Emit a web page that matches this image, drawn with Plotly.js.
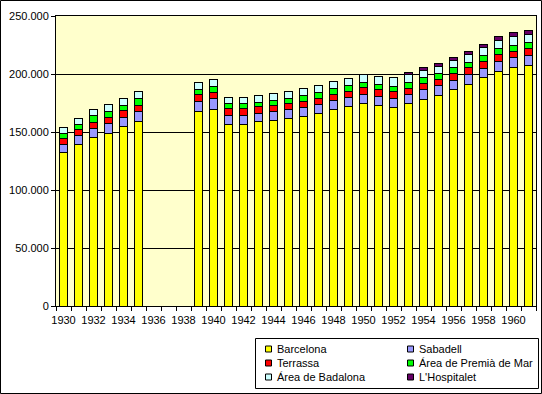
<!DOCTYPE html>
<html>
<head>
<meta charset="utf-8">
<script src="https://cdn.plot.ly/plotly-3.0.1.min.js"></script>
<style>html,body{margin:0;padding:0;background:#fff;}#chart{width:542px;height:394px;}</style>
</head>
<body>
<div id="chart"></div>
<script>
const years = [1930,1931,1932,1933,1934,1935,1936,1937,1938,1939,1940,1941,1942,1943,1944,1945,1946,1947,1948,1949,1950,1951,1952,1953,1954,1955,1956,1957,1958,1959,1960,1961];
const barcelona = [132500,139400,145400,148900,154900,159200,null,null,null,167800,169600,156600,156800,159200,160100,161800,163500,166100,169600,172200,174700,173000,171300,174700,178200,181600,186800,191100,197200,202300,205800,207500];
const sabadell = [6900,7800,7800,8600,7800,8300,null,null,null,8600,9500,7800,7600,6900,7800,7800,7800,7800,7800,7800,7800,7800,7800,7800,8600,8600,7800,8600,7800,8600,8600,8600];
const terrassa = [5200,5200,5200,5200,5500,5500,null,null,null,6000,5200,6000,6000,6000,5200,5200,5200,5200,5200,5200,6000,6000,6000,5200,5200,5200,6000,6000,6000,6000,5200,6000];
const premia = [4300,4300,5400,5400,5000,5500,null,null,null,4300,5200,4300,4300,3400,4300,4300,5200,5200,5200,5200,4300,4300,4300,5200,5200,5200,5200,4300,5200,5200,5200,5200];
const badalona = [5200,5200,5200,6000,6000,6500,null,null,null,6000,6000,5200,5200,6000,6000,6000,6000,6000,6000,6000,6900,6900,7200,6900,6000,6000,6000,6900,6900,6900,7800,6900];
const hospitalet = [null,null,null,null,null,null,null,null,null,null,null,null,null,null,null,null,null,null,null,null,null,null,800,1700,2600,2600,2600,2600,2600,3400,3400,3400];
const tickYears = [1930,1932,1934,1936,1938,1940,1942,1944,1946,1948,1950,1952,1954,1956,1958,1960];
const seriesNames = ["Barcelona","Sabadell","Terrassa","Área de Premià de Mar","Área de Badalona","L'Hospitalet"];
const seriesColors = ["#FFFF00","#9999FF","#FF0000","#00FF00","#CCFFFF","#660066"];
const seriesData = [barcelona,sabadell,terrassa,premia,badalona,hospitalet];

const W = 542, H = 394, ML = 56, MR = 6, MT = 16, MB = 88;
const PW = W - ML - MR, PH = H - MT - MB;
const px = v => (v - ML) / PW;
const py = v => (H - MB - v) / PH;
const FONT = "Liberation Sans, Arial, sans-serif";

const traces = seriesData.map((d, i) => ({
  type: 'bar', x: years, y: d, name: seriesNames[i], width: 0.5,
  marker: {color: seriesColors[i], line: {color: '#000', width: 1}},
  showlegend: false, hoverinfo: 'x+y+name'
}));

// legend (two columns, three rows) built from the series arrays
const shapes = [
  {type:'rect', xref:'paper', yref:'paper', x0:px(0.5), x1:px(W-0.5), y0:py(H-0.5), y1:py(0.5), line:{color:'#000', width:1}},
  {type:'rect', xref:'paper', yref:'paper', x0:px(255.5), x1:px(538.5), y0:py(388.5), y1:py(338.5), line:{color:'#000', width:1}}
];
const annotations = [];
const colX = [265.5, 407.5];
const rowY = [349, 363, 377];
seriesNames.forEach((n, i) => {
  const c = i % 2, r = Math.floor(i / 2);
  const sx = colX[c], sy = rowY[r];
  shapes.push({type:'rect', xref:'paper', yref:'paper', x0:px(sx), x1:px(sx+6), y0:py(sy+3), y1:py(sy-3), fillcolor: seriesColors[i], line:{color:'#000', width:1}});
  annotations.push({xref:'paper', yref:'paper', x:px(sx+9), y:py(sy), xanchor:'left', yanchor:'middle', text:n, showarrow:false, font:{family:FONT, size:11, color:'#000'}});
});

const layout = {
  width: W, height: H,
  margin: {l: ML, r: MR, t: MT, b: MB, pad: 0},
  paper_bgcolor: '#FFFFFF', plot_bgcolor: '#FFFFCC',
  barmode: 'stack', separators: ',.',
  font: {family: FONT, size: 11, color: '#000'},
  showlegend: false,
  xaxis: {
    range: [1929.5, 1961.5], tickvals: tickYears, ticktext: tickYears.map(String),
    ticks: 'outside', ticklen: 4, tickcolor: 'rgba(0,0,0,0)',
    minor: {ticks: 'outside', ticklen: 4, tick0: 1929.5, dtick: 1, tickcolor: '#000', tickwidth: 1, showgrid: false},
    showgrid: false, zeroline: false, showline: true, linecolor: '#000', linewidth: 1, mirror: true,
    tickfont: {family: FONT, size: 11, color: '#000'}, fixedrange: true
  },
  yaxis: {
    range: [0, 250000], dtick: 50000, tick0: 0, tickformat: ',d',
    ticks: 'outside', ticklen: 4, tickcolor: '#000',
    showgrid: true, gridcolor: '#000', gridwidth: 1, zeroline: false,
    showline: true, linecolor: '#000', linewidth: 1, mirror: true,
    tickfont: {family: FONT, size: 11, color: '#000'}, fixedrange: true
  },
  shapes: shapes, annotations: annotations
};
Plotly.newPlot('chart', traces, layout, {displayModeBar: false, staticPlot: true});
</script>
</body>
</html>
